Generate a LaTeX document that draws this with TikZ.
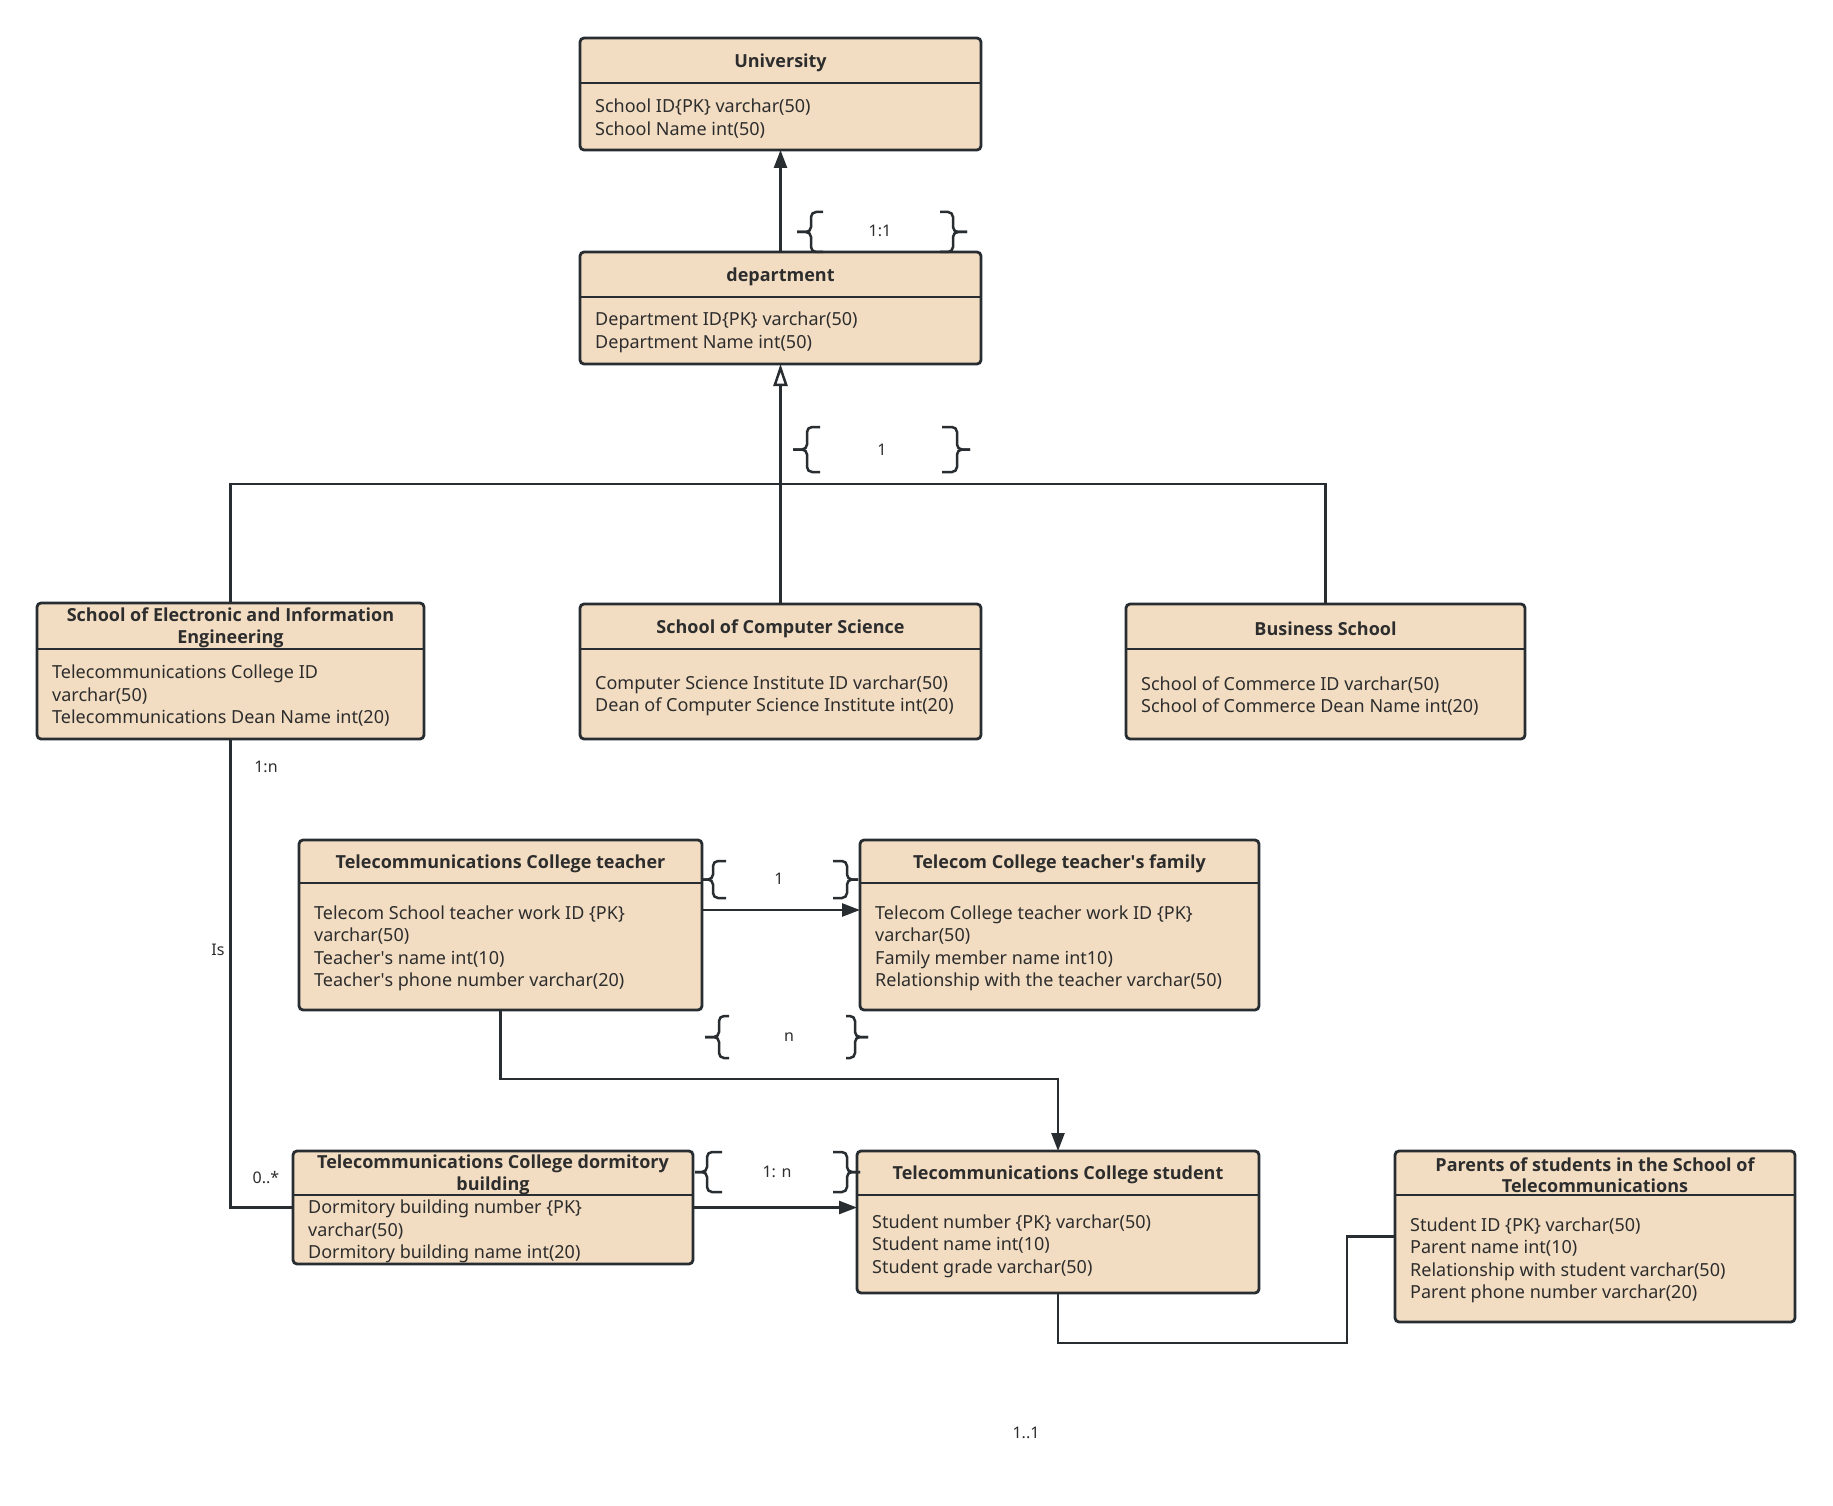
\documentclass[tikz,border=0pt]{standalone}
\usepackage{fontspec}
\setmainfont{Noto Sans}
\IfFontExistsTF{Noto Sans Bold}{\newfontfamily\tfont{Noto Sans Bold}}{%
 \IfFontExistsTF{Open Sans Bold}{\newfontfamily\tfont{Open Sans Bold}}{\newfontfamily\tfont{Noto Sans}[FakeBold=2]}}
\usetikzlibrary{arrows.meta}
\definecolor{efill}{RGB}{242,221,194}
\definecolor{edraw}{RGB}{40,45,50}
\definecolor{etext}{RGB}{45,45,45}
\tikzset{
 ebox/.style={rectangle,draw=edraw,fill=efill,line width=2.8pt,rounded corners=4pt,inner sep=0pt,outer sep=0pt},
 ediv/.style={draw=edraw,line width=2.8pt},
 etitle/.style={font=\tfont\fontsize{18}{21.5}\selectfont,text=etext,align=center,inner sep=0pt,yshift=-2pt},
 ebody/.style={font=\fontsize{18}{22.5}\selectfont,text=etext,align=left,inner sep=0pt,anchor=west,yshift=-2pt},
 conn/.style={draw=edraw,line width=2.5pt},
 arr/.style={conn,-{Triangle[length=18pt,width=13pt]}},
 oarr/.style={conn,-{Triangle[open,length=22pt,width=14pt]}},
 lbl/.style={font=\fontsize{16}{19}\selectfont,text=etext,inner sep=0pt},
 brc/.style={draw=edraw,line width=2.5pt,rounded corners=5pt},
}
\newcommand\ent[8]{%
 \pgfmathsetmacro\ew{#4-#2}%
 \pgfmathsetmacro\eh{#5-#3}%
 \node[ebox,minimum width=\ew pt,minimum height=\eh pt] (#1) at ({(#2+#4)/2},{(#3+#5)/2}) {};
 \draw[ediv] (#2,#6) -- (#4,#6);
 \node[etitle] (#1t) at ({(#2+#4)/2},{(#3+#6)/2}) {#7};
 \node[ebody] (#1b) at ({#2+15},{(#6+#5)/2}) {#8};
}
\newcommand\brL[5]{%
 \draw[brc] (#3,#4) -- (#2,#4) -- (#2,{(#4+#5)/2}) -- (#1,{(#4+#5)/2});
 \draw[brc] (#3,#5) -- (#2,#5) -- (#2,{(#4+#5)/2}) -- (#1,{(#4+#5)/2});
}
\newcommand\brR[5]{%
 \draw[brc] (#1,#4) -- (#2,#4) -- (#2,{(#4+#5)/2}) -- (#3,{(#4+#5)/2});
 \draw[brc] (#1,#5) -- (#2,#5) -- (#2,{(#4+#5)/2}) -- (#3,{(#4+#5)/2});
}
\begin{document}
\begin{tikzpicture}[x=1pt,y=-1pt]
\fill[white] (0,0) rectangle (1833,1506);
\useasboundingbox (0,0) rectangle (1833,1506);

\ent{univ}{580}{38}{981}{150}{83}{University}{School ID\{PK\} varchar(50)\\School Name int(50)}
\ent{dept}{580}{252}{981}{364}{297}{department}{Department ID\{PK\} varchar(50)\\Department Name int(50)}
\ent{elec}{37}{603}{424}{739}{649}{School of Electronic and Information\\Engineering}{Telecommunications College ID\\varchar(50)\\Telecommunications Dean Name int(20)}
\ent{cs}{580}{604}{981}{739}{649}{School of Computer Science}{Computer Science Institute ID varchar(50)\\Dean of Computer Science Institute int(20)}
\ent{bus}{1126}{604}{1525}{739}{649}{Business School}{School of Commerce ID varchar(50)\\School of Commerce Dean Name int(20)}
\ent{teach}{299}{840}{702}{1010}{883}{Telecommunications College teacher}{Telecom School teacher work ID \{PK\}\\varchar(50)\\Teacher\textquotesingle s name int(10)\\Teacher\textquotesingle s phone number varchar(20)}
\ent{fam}{860}{840}{1259}{1010}{883}{Telecom College teacher\textquotesingle s family}{Telecom College teacher work ID \{PK\}\\varchar(50)\\Family member name int10)\\Relationship with the teacher varchar(50)}
\ent{dorm}{293}{1151}{693}{1264}{1195}{Telecommunications College dormitory\\building}{Dormitory building number \{PK\}\\varchar(50)\\Dormitory building name int(20)}
\ent{stud}{857}{1151}{1259}{1293}{1195}{Telecommunications College student}{Student number \{PK\} varchar(50)\\Student name int(10)\\Student grade varchar(50)}
\ent{par}{1395}{1151}{1795}{1322}{1195}{Parents of students in the School of\\Telecommunications}{Student ID \{PK\} varchar(50)\\Parent name int(10)\\Relationship with student varchar(50)\\Parent phone number varchar(20)}

% connectors
\draw[arr] (dept.north) -- (univ.south);
\draw[oarr] (cs.north) -- (dept.south);
\coordinate (hub) at (780.5,484);
\draw[conn] (elec.north) |- (hub) -| (bus.north);
\coordinate (y910) at (0,910);
\draw[arr] (teach.east |- y910) -- (fam.west |- y910);
\coordinate (tbend) at (1058,1079);
\draw[arr] (teach.south) |- (tbend) -- (stud.north);
\draw[arr] (dorm.east) -- (stud.west |- dorm.east);
\draw[conn] (elec.south) |- (dorm.west);
\coordinate (sp1) at (1058,1343);
\coordinate (sp2) at (1347,1236.5);
\draw[conn] (stud.south) -- (sp1) -| (sp2) -- (par.west);

% braces
\brL{797}{811}{823}{212}{252}
\brR{940}{953}{967}{212}{252}
\brL{793}{807}{820}{427}{472}
\brR{942}{957}{970}{427}{472}
\brL{703}{713}{726}{861}{898}
\brR{833}{847}{858}{861}{898}
\brL{705}{719}{729}{1016}{1058}
\brR{846}{855}{868}{1016}{1058}
\brL{695}{707}{722}{1152}{1192}
\brR{833}{847}{860}{1152}{1192}

% labels
\node[lbl] (l11) at (880,231) {1:1};
\node[lbl] (l1a) at (882,450) {1};
\node[lbl] (l1b) at (779,879) {1};
\node[lbl] (ln) at (789,1037) {n};
\node[lbl] (l1n) at (777,1172) {1: n};
\node[lbl] (l1nb) at (266,767) {1:n};
\node[lbl] (lis) at (218,950) {Is};
\node[lbl] (l0s) at (266,1178) {0..*};
\node[lbl] (l1d1) at (1026,1433) {1..1};
\end{tikzpicture}
\end{document}
